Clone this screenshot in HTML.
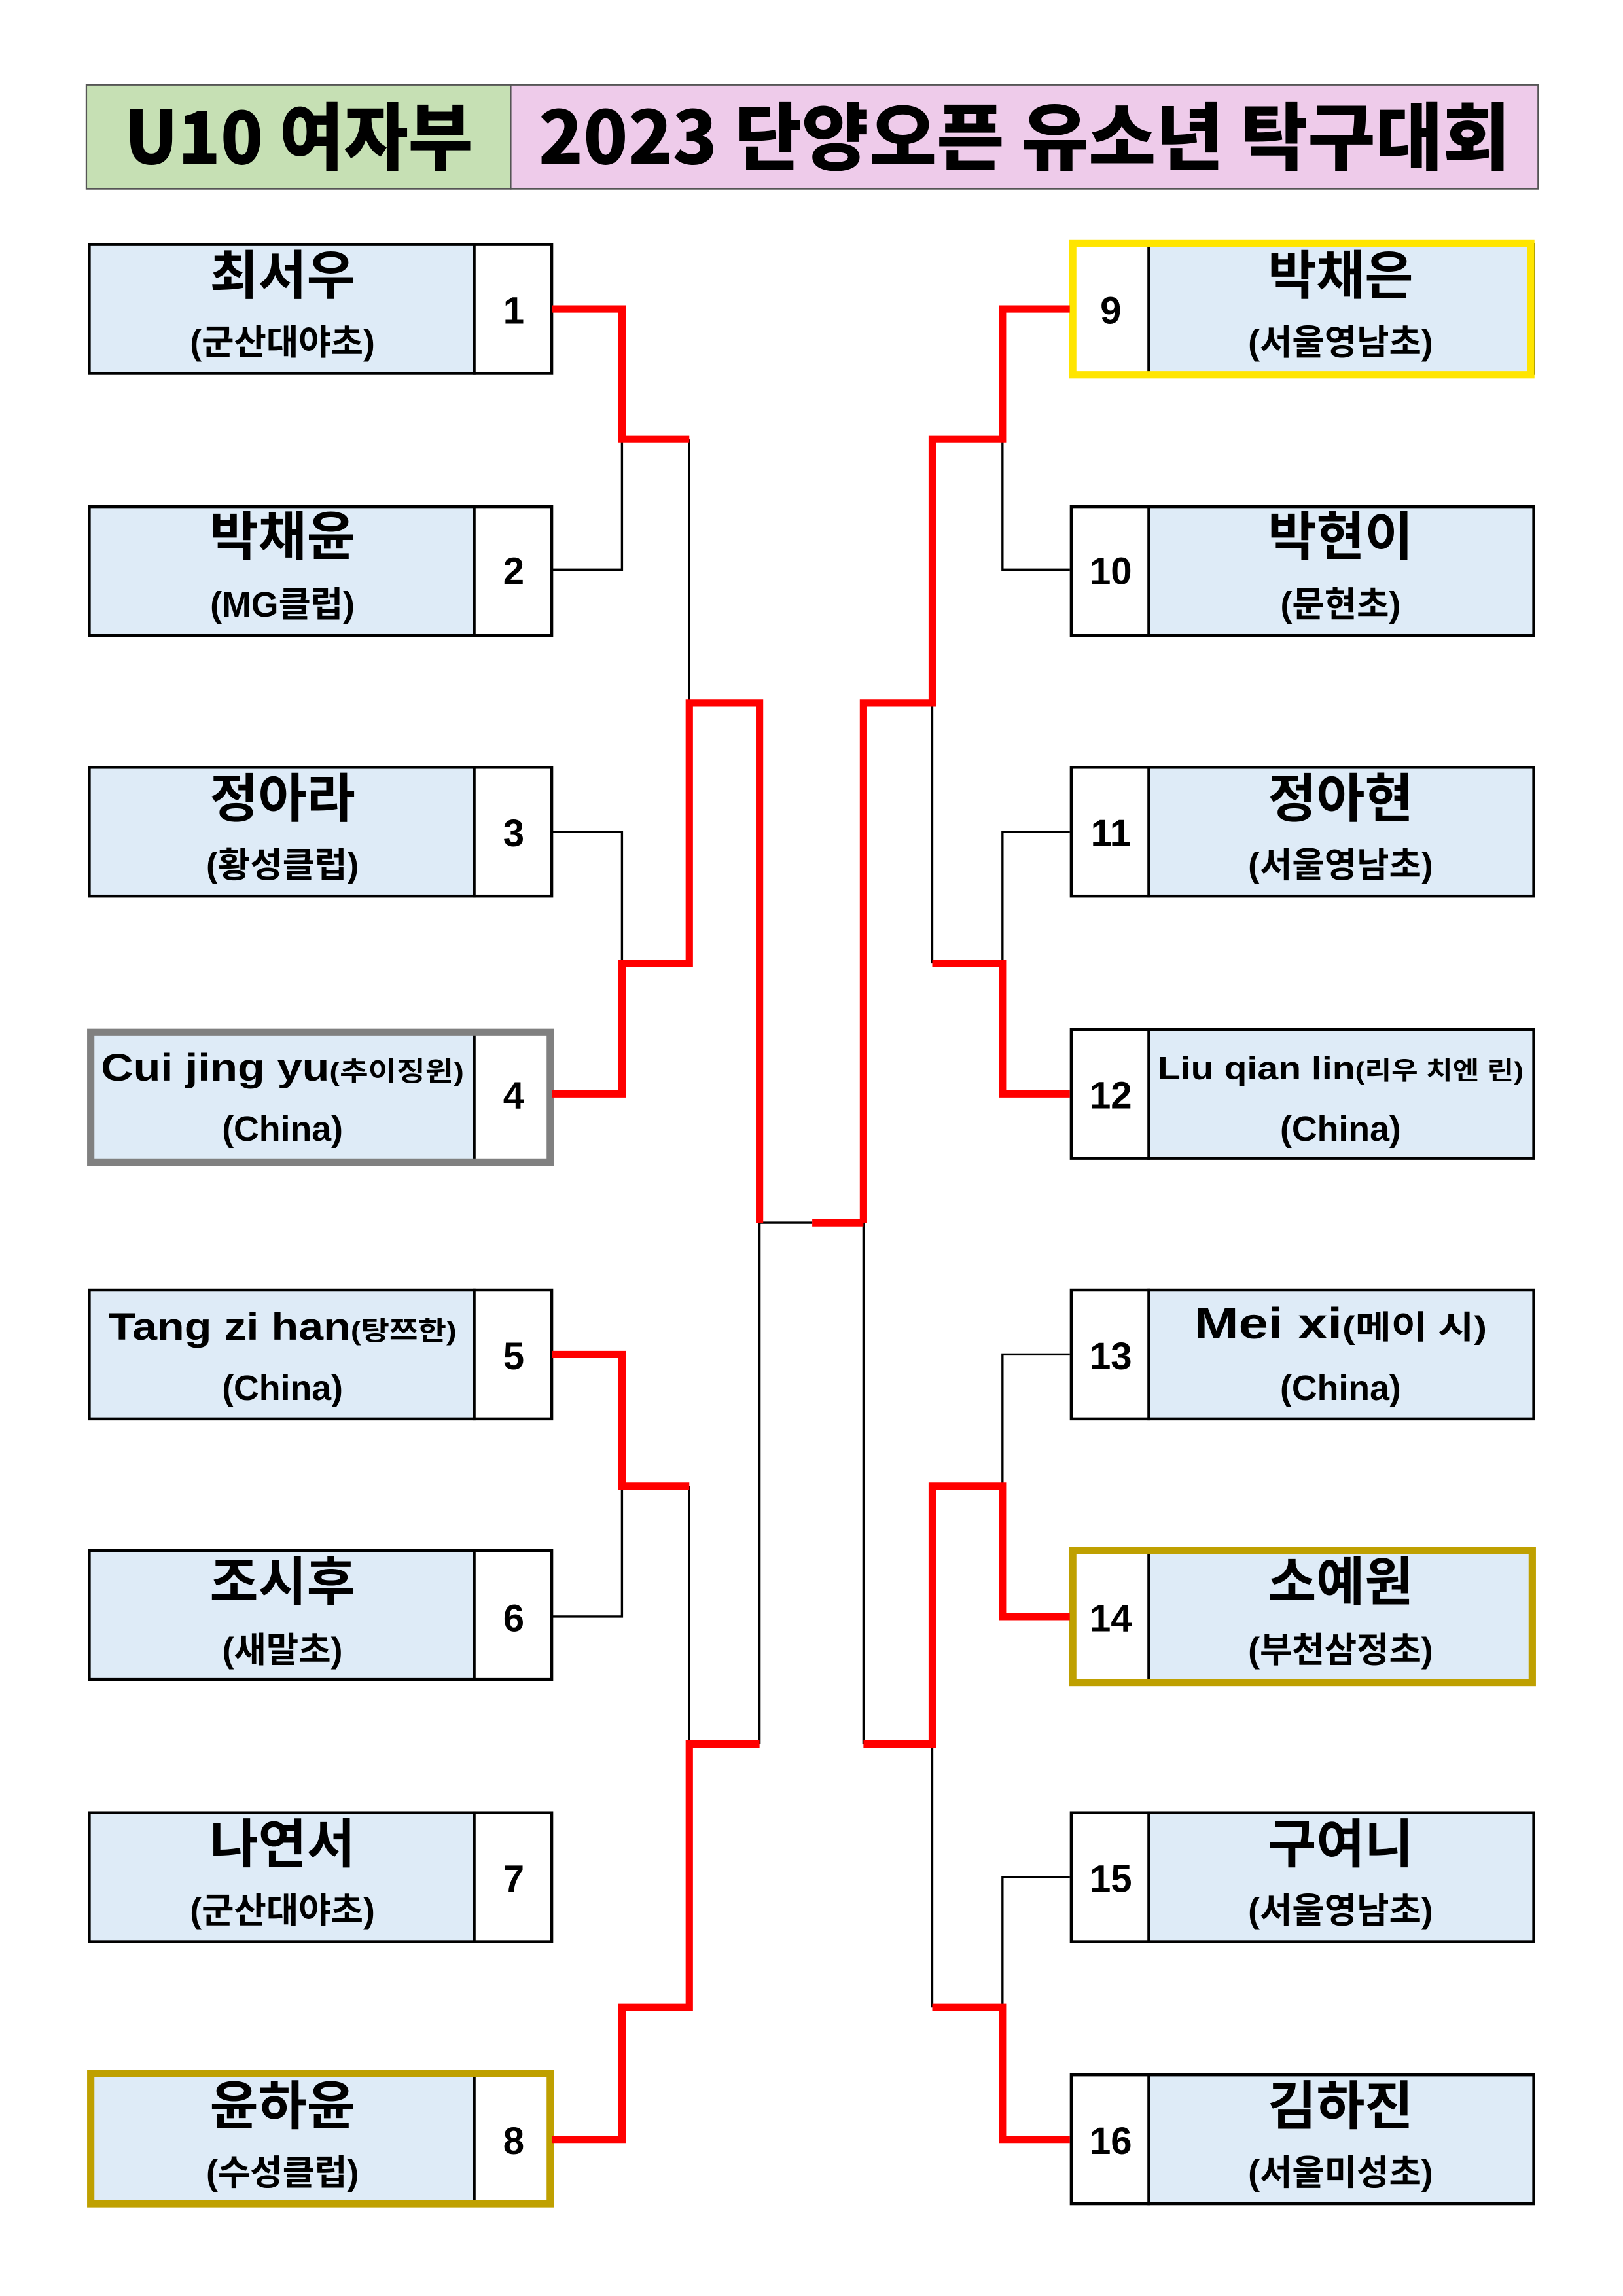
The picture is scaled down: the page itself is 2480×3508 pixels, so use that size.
<!DOCTYPE html>
<html><head><meta charset="utf-8"><style>
html,body{margin:0;padding:0;background:#fff}
svg{display:block}
text{font-family:"Liberation Sans","Noto Sans CJK KR",sans-serif;font-weight:bold;fill:#000}
.h{font-family:"Noto Sans CJK KR","Liberation Sans",sans-serif;font-weight:900}
</style></head><body>
<svg width="2480" height="3508" viewBox="0 0 1109 1568" preserveAspectRatio="none" xmlns="http://www.w3.org/2000/svg">
<rect x="59" y="58" width="290" height="71" fill="#c6e0b4" stroke="#555" stroke-width="1"/>
<rect x="349" y="58" width="702" height="71" fill="#eecbea" stroke="#555" stroke-width="1"/>
<text class="h" x="85" y="112" font-size="50" textLength="238" lengthAdjust="spacingAndGlyphs">U10  여자부</text>
<text class="h" x="368" y="112" font-size="50" textLength="664" lengthAdjust="spacingAndGlyphs">2023 단양오픈  유소년  탁구대회</text>

<g fill="#deebf7" stroke="#000" stroke-width="2">
<rect x="61" y="167" width="263" height="88"/><rect x="324" y="167" width="53" height="88" fill="#fff"/>
<rect x="61" y="346" width="263" height="88"/><rect x="324" y="346" width="53" height="88" fill="#fff"/>
<rect x="61" y="524" width="263" height="88"/><rect x="324" y="524" width="53" height="88" fill="#fff"/>
<rect x="63" y="705" width="261" height="88"/><rect x="324" y="705" width="52" height="88" fill="#fff"/>
<rect x="61" y="881" width="263" height="88"/><rect x="324" y="881" width="53" height="88" fill="#fff"/>
<rect x="61" y="1059" width="263" height="88"/><rect x="324" y="1059" width="53" height="88" fill="#fff"/>
<rect x="61" y="1238" width="263" height="88"/><rect x="324" y="1238" width="53" height="88" fill="#fff"/>
<rect x="63" y="1417" width="261" height="88"/><rect x="324" y="1417" width="52" height="88" fill="#fff"/>

<rect x="785" y="167" width="263" height="88"/><rect x="732" y="167" width="53" height="88" fill="#fff"/>
<rect x="785" y="346" width="263" height="88"/><rect x="732" y="346" width="53" height="88" fill="#fff"/>
<rect x="785" y="524" width="263" height="88"/><rect x="732" y="524" width="53" height="88" fill="#fff"/>
<rect x="785" y="703" width="263" height="88"/><rect x="732" y="703" width="53" height="88" fill="#fff"/>
<rect x="785" y="881" width="263" height="88"/><rect x="732" y="881" width="53" height="88" fill="#fff"/>
<rect x="785" y="1060" width="263" height="88"/><rect x="732" y="1060" width="53" height="88" fill="#fff"/>
<rect x="785" y="1238" width="263" height="88"/><rect x="732" y="1238" width="53" height="88" fill="#fff"/>
<rect x="785" y="1417" width="263" height="88"/><rect x="732" y="1417" width="53" height="88" fill="#fff"/>
</g>
<g fill="none" stroke-width="5">
<rect x="62" y="705" width="314" height="89" stroke="#808080"/>
<rect x="62" y="1416" width="314" height="89" stroke="#bfa000"/>
<rect x="733" y="166" width="313" height="90" stroke="#ffe500"/>
<rect x="733" y="1059" width="314" height="90" stroke="#bfa000"/>
</g>

<g fill="none" stroke="#000" stroke-width="1.5">
<path d="M377 389H425V300M471 300V480M377 568H425V658M377 1104H425V1015M471 1015V1191M519 835V1191M519 835H555"/>
<path d="M731 389H685V300M637 480V658M731 568H685V658M590 835V1191M731 925H685V1015M637 1191V1371M731 1282H685V1371"/>
</g>
<g fill="none" stroke="#ff0000" stroke-width="5" stroke-linejoin="miter">
<path d="M377 211H425V300H471"/>
<path d="M377 747H425V658H471V480H519V835"/>
<path d="M377 925H425V1015H471"/>
<path d="M377 1461H425V1371H471V1191H519"/>
<path d="M555 835H590"/>
<path d="M731 211H685V300H637V480H590V835"/>
<path d="M731 747H685V658H637"/>
<path d="M731 1104H685V1015H637V1191H590"/>
<path d="M731 1461H685V1371H637"/>
</g>

<g font-size="26" text-anchor="middle">
<text x="351" y="221">1</text><text x="351" y="399">2</text><text x="351" y="578">3</text><text x="351" y="757">4</text>
<text x="351" y="935">5</text><text x="351" y="1114">6</text><text x="351" y="1292">7</text><text x="351" y="1471">8</text>
<text x="759" y="221">9</text><text x="759" y="399">10</text><text x="759" y="578">11</text><text x="759" y="757">12</text>
<text x="759" y="935">13</text><text x="759" y="1114">14</text><text x="759" y="1292">15</text><text x="759" y="1471">16</text>
</g>
<g text-anchor="middle">
<g font-size="36">
<text x="193" y="201">최서우</text><text x="193" y="379">박채윤</text><text x="193" y="558">정아라</text>
<text x="193" y="1093">조시후</text><text x="193" y="1272">나연서</text><text x="193" y="1451">윤하윤</text>
<text x="916" y="201">박채은</text><text x="916" y="379">박현이</text><text x="916" y="558">정아현</text>
<text x="916" y="1093">소예원</text><text x="916" y="1272">구여니</text><text x="916" y="1451">김하진</text>
</g>
<g font-size="24">
<text x="193" y="242">(군산대야초)</text><text x="193" y="421">(MG클럽)</text><text x="193" y="599">(황성클럽)</text>
<text x="193" y="779">(China)</text><text x="193" y="956">(China)</text>
<text x="193" y="1135">(새말초)</text><text x="193" y="1313">(군산대야초)</text><text x="193" y="1492">(수성클럽)</text>
<text x="916" y="242">(서울영남초)</text><text x="916" y="421">(문현초)</text><text x="916" y="599">(서울영남초)</text>
<text x="916" y="779">(China)</text><text x="916" y="956">(China)</text>
<text x="916" y="1135">(부천삼정초)</text><text x="916" y="1313">(서울영남초)</text><text x="916" y="1492">(서울미성초)</text>
</g>
<text x="193" y="738" font-size="26" textLength="248" lengthAdjust="spacingAndGlyphs">Cui jing yu<tspan font-size="18">(추이징윈)</tspan></text>
<text x="193" y="915" font-size="26" textLength="238" lengthAdjust="spacingAndGlyphs">Tang zi han<tspan font-size="18">(탕쯔한)</tspan></text>
<text x="916" y="737" font-size="22" textLength="250" lengthAdjust="spacingAndGlyphs">Liu qian lin<tspan font-size="17">(리우 치엔 린)</tspan></text>
<text x="916" y="914" font-size="30" textLength="200" lengthAdjust="spacingAndGlyphs">Mei xi<tspan font-size="22">(메이 시)</tspan></text>
</g>
</svg>
</body></html>
